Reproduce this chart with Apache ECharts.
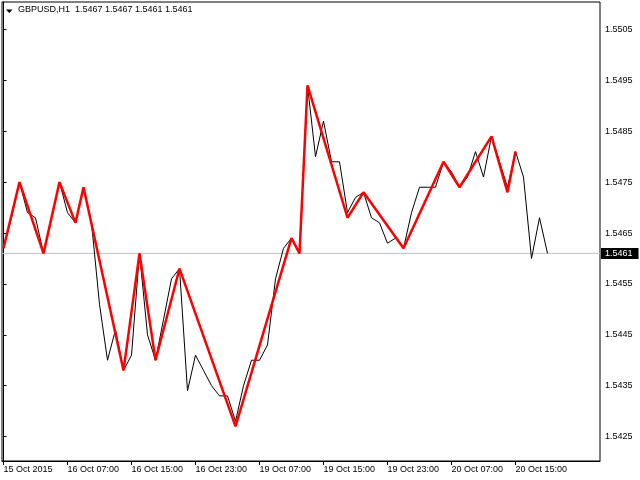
<!DOCTYPE html>
<html>
<head>
<meta charset="utf-8">
<script src="https://cdn.jsdelivr.net/npm/echarts@6/dist/echarts.min.js"></script>
<style>
html,body{margin:0;padding:0;background:#fff;}
#chart{width:640px;height:480px;}
</style>
</head>
<body>
<div id="chart"></div>
<script>
// ---- data ----
const symbolName = 'GBPUSD,H1';
const lastOHLC = [1.5467, 1.5467, 1.5461, 1.5461];
// hourly closes (black line), bar 0 = 15 Oct 23:00
const closeVals = [1.5462,1.5468,1.5475,1.5469,1.5468,1.5461,1.5468,1.5475,1.5469,1.5467,
  1.5474,1.5467,1.5451,1.5440,1.5446,1.5438,1.5441,1.5461,1.5445,1.5440,
  1.5448,1.5456,1.5458,1.5434,1.5441,1.5438,1.5435,1.5433,1.5433,1.5428,
  1.5435,1.5440,1.5440,1.5443,1.5456,1.5462,1.5464,1.5461,1.5494,1.5480,
  1.5487,1.5479,1.5479,1.5469,1.5472,1.5473,1.5468,1.5467,1.5463,1.5464,
  1.5462,1.5469,1.5474,1.5474,1.5474,1.5479,1.5477,1.5474,1.5476,1.5481,
  1.5476,1.5484,1.5479,1.5474,1.5481,1.5476,1.5460,1.5468,1.5461];
// zigzag turning points (red line)
const zigBars = [0,2,5,7,9,10,15,17,19,22,29,36,37,38,43,45,50,55,57,61,63,64];
const zigVals = [1.5462,1.5475,1.5461,1.5475,1.5467,1.5474,1.5438,1.5461,1.5440,1.5458,
  1.5427,1.5464,1.5461,1.5494,1.5468,1.5473,1.5462,1.5479,1.5474,1.5484,1.5473,1.5481];
// axis ticks
const xTickBars = [0,8,16,24,32,40,48,56,64];
const xTickLabels = ['15 Oct 2015','16 Oct 07:00','16 Oct 15:00','16 Oct 23:00','19 Oct 07:00',
  '19 Oct 15:00','19 Oct 23:00','20 Oct 07:00','20 Oct 15:00'];
const yTicks = [1.5425,1.5435,1.5445,1.5455,1.5465,1.5475,1.5485,1.5495,1.5505];

const X_MIN = -0.1875, X_MAX = 74.5625;
const lastClose = closeVals[closeVals.length - 1];
const closeData = closeVals.map((v, i) => [i, v]);
const zigData = zigBars.map((b, k) => [b, zigVals[k]]);
const levelData = [[X_MIN, lastClose], [X_MAX, lastClose]];

const FONT = 'Liberation Sans';
const chart = echarts.init(document.getElementById('chart'), null, {renderer: 'canvas'});
chart.setOption({
  animation: false,
  backgroundColor: '#fff',
  title: {
    text: symbolName + '  ' + lastOHLC.map(v => v.toFixed(4)).join(' '),
    left: 18, top: 5, padding: 0,
    textStyle: {fontFamily: FONT, fontSize: 9, fontWeight: 'normal', color: '#000'}
  },
  graphic: [{
    type: 'polygon', silent: true,
    shape: {points: [[6, 9.5], [12.5, 9.5], [9.25, 13]]},
    style: {fill: '#000'}
  }],
  grid: {
    left: 2, top: 2, width: 598, height: 459,
    show: true, borderColor: '#000', borderWidth: 1, backgroundColor: '#fff'
  },
  xAxis: {
    type: 'value',
    min: X_MIN, max: X_MAX,
    axisLine: {show: true, lineStyle: {color: '#000', width: 1}},
    axisTick: {show: true, length: 4, customValues: xTickBars, lineStyle: {color: '#000'}},
    axisLabel: {
      show: true, customValues: xTickBars, margin: 4, align: 'left',
      fontFamily: FONT, fontSize: 9, color: '#000',
      formatter: v => { const k = xTickBars.indexOf(Math.round(v)); return k >= 0 ? xTickLabels[k] : ''; }
    },
    splitLine: {show: false}
  },
  yAxis: {
    type: 'value', position: 'right',
    min: 1.54202, max: 1.55104,
    axisLine: {show: true, lineStyle: {color: '#000', width: 1}},
    axisTick: {show: true, length: 3, customValues: yTicks, lineStyle: {color: '#000'}},
    axisLabel: {
      show: true, customValues: yTicks, margin: 5,
      fontFamily: FONT, fontSize: 9, color: '#000',
      formatter: v => v.toFixed(4)
    },
    splitLine: {show: false}
  },
  series: [
    {
      type: 'line', name: 'level', data: levelData, z: 1,
      showSymbol: false, symbol: 'none', silent: true,
      lineStyle: {color: '#c0c0c0', width: 1},
      endLabel: {
        show: true, distance: 1,
        formatter: () => lastClose.toFixed(4),
        backgroundColor: '#000', color: '#fff',
        fontFamily: FONT, fontSize: 9, padding: [1, 6, 1, 4], lineHeight: 9
      }
    },
    {
      type: 'line', name: 'close', data: closeData, z: 2,
      showSymbol: false, symbol: 'none',
      lineStyle: {color: '#000', width: 1}
    },
    {
      type: 'line', name: 'zigzag', data: zigData, z: 3,
      showSymbol: false, symbol: 'none',
      lineStyle: {color: '#ff0000', width: 2.5}
    }
  ]
});
</script>
</body>
</html>
